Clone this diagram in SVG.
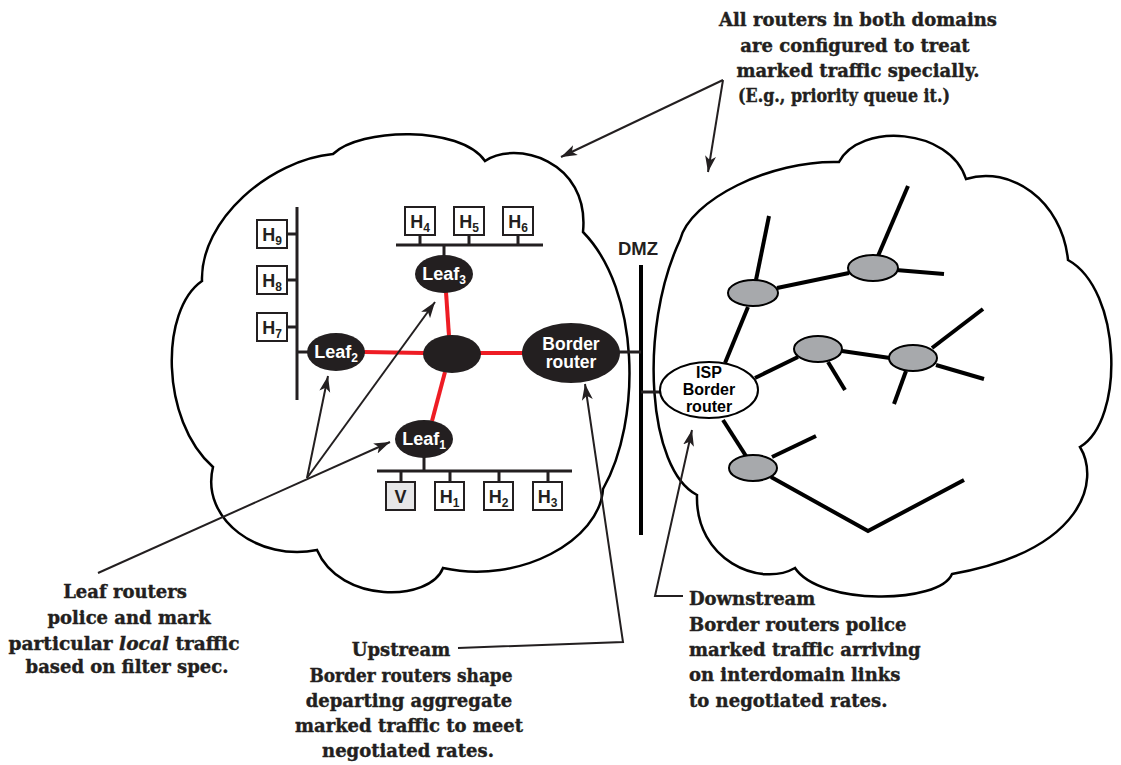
<svg xmlns="http://www.w3.org/2000/svg" width="1121" height="765" viewBox="0 0 1121 765">
<style>
.cloud{fill:none;stroke:#000;stroke-width:2.5}
.host{fill:#fff;stroke:#231f20;stroke-width:2}
.hl{font-family:"Liberation Sans",Arial,sans-serif;font-weight:bold;font-size:18px;fill:#231f20}
.sub{font-size:12px}
.rt{fill:#231f20}
.rl{font-family:"Liberation Sans",Arial,sans-serif;font-weight:bold;font-size:18px;fill:#fff}
.bus{stroke:#231f20;stroke-width:3;fill:none}
.red{stroke:#ee1c24;stroke-width:4;fill:none}
.net{stroke:#000;stroke-width:4;fill:none}
.gr{fill:#a7a9ac;stroke:#000;stroke-width:2}
.arr{stroke:#231f20;stroke-width:2;fill:none}
.note{font-family:"DejaVu Serif","Liberation Serif",serif;font-weight:bold;font-size:18px;fill:#231f20;stroke:#231f20;stroke-width:0.4}
</style>
<defs>
<marker id="ah" markerUnits="userSpaceOnUse" markerWidth="17" markerHeight="12" refX="16" refY="6" orient="auto">
<path d="M0,0.5 L16,6 L0,11.5 L4,6 z" fill="#231f20"/>
</marker>
</defs>
<rect width="1121" height="765" fill="#fff"/>

<g id="clouds">
<path id="cloud-left" class="cloud" d="M333,154 C360,128 460,125 485,161 C515,140 590,160 583,232 C640,290 642,420 603,489 C600,540 520,585 443,568 C430,602 340,604 317,550 C260,562 200,520 213,467 C160,420 160,310 202,281 C200,220 270,160 333,154 Z"/>
<path id="cloud-right" class="cloud" d="M839,162 C860,122 950,128 966,179 C1010,165 1062,200 1068,260 C1122,290 1125,420 1080,447 C1100,480 1085,550 952,574 C940,604 820,606 795,568 C760,588 695,560 697,495 C648,470 638,330 680,240 C690,200 770,160 839,162 Z"/>
</g>

<g id="connectors">
<line class="bus" x1="297" y1="207" x2="297" y2="400"/>
<line class="bus" x1="287" y1="234" x2="297" y2="234"/>
<line class="bus" x1="287" y1="280" x2="297" y2="280"/>
<line class="bus" x1="287" y1="327" x2="297" y2="327"/>
<line class="bus" x1="297" y1="352" x2="308" y2="352"/>
<line class="bus" x1="396" y1="245" x2="543" y2="245"/>
<line class="bus" x1="420" y1="235" x2="420" y2="245"/>
<line class="bus" x1="469" y1="235" x2="469" y2="245"/>
<line class="bus" x1="518" y1="235" x2="518" y2="245"/>
<line class="bus" x1="444" y1="245" x2="444" y2="256"/>
<line class="bus" x1="377" y1="471" x2="572" y2="471"/>
<line class="bus" x1="424" y1="457" x2="424" y2="471"/>
<line class="bus" x1="401" y1="471" x2="401" y2="482"/>
<line class="bus" x1="450" y1="471" x2="450" y2="482"/>
<line class="bus" x1="499" y1="471" x2="499" y2="482"/>
<line class="bus" x1="548" y1="471" x2="548" y2="482"/>
<line class="red" x1="364" y1="352" x2="424" y2="353"/>
<line class="red" x1="480" y1="353" x2="523" y2="353"/>
<line class="red" x1="446" y1="292" x2="449" y2="336"/>
<line class="red" x1="432" y1="421" x2="445" y2="372"/>
<line x1="641" y1="265" x2="641" y2="535" stroke="#000" stroke-width="4"/>
<line class="bus" x1="619" y1="352" x2="641" y2="352"/>
<line class="bus" x1="641" y1="392" x2="661" y2="392"/>
<line class="net" x1="725" y1="363" x2="748" y2="307"/>
<line class="net" x1="756" y1="280" x2="769" y2="216"/>
<line class="net" x1="777" y1="288" x2="849" y2="273"/>
<line class="net" x1="878" y1="256" x2="908" y2="186"/>
<line class="net" x1="896" y1="270" x2="944" y2="274"/>
<line class="net" x1="755" y1="378" x2="798" y2="357"/>
<line class="net" x1="828" y1="362" x2="845" y2="390"/>
<line class="net" x1="842" y1="351" x2="890" y2="358"/>
<line class="net" x1="932" y1="348" x2="983" y2="309"/>
<line class="net" x1="936" y1="365" x2="984" y2="379"/>
<line class="net" x1="906" y1="371" x2="894" y2="404"/>
<line class="net" x1="723" y1="420" x2="746" y2="456"/>
<line class="net" x1="772" y1="457" x2="816" y2="436"/>
<polyline class="net" points="771,477 868,531 964,480"/>
<line class="arr" x1="723" y1="80" x2="561" y2="157" marker-end="url(#ah)"/>
<line class="arr" x1="723" y1="80" x2="708" y2="172" marker-end="url(#ah)"/>
<line class="arr" x1="98" y1="573" x2="390" y2="442" marker-end="url(#ah)"/>
<line class="arr" x1="307" y1="478" x2="328" y2="376" marker-end="url(#ah)"/>
<line class="arr" x1="307" y1="478" x2="435" y2="302" marker-end="url(#ah)"/>
<polyline class="arr" points="458,648 623,642 585,384" marker-end="url(#ah)"/>
<polyline class="arr" points="683,596 655,596 692,430" marker-end="url(#ah)"/>
</g>

<g id="host-H9"><rect class="host" x="257" y="220" width="30" height="28"/><text class="hl" x="272" y="240.5" text-anchor="middle">H<tspan class="sub" dy="4">9</tspan></text></g>
<g id="host-H8"><rect class="host" x="257" y="266" width="30" height="28"/><text class="hl" x="272" y="286.5" text-anchor="middle">H<tspan class="sub" dy="4">8</tspan></text></g>
<g id="host-H7"><rect class="host" x="257" y="313" width="30" height="28"/><text class="hl" x="272" y="333.5" text-anchor="middle">H<tspan class="sub" dy="4">7</tspan></text></g>
<g id="host-H4"><rect class="host" x="405" y="207" width="30" height="28"/><text class="hl" x="420" y="227.5" text-anchor="middle">H<tspan class="sub" dy="4">4</tspan></text></g>
<g id="host-H5"><rect class="host" x="454" y="207" width="30" height="28"/><text class="hl" x="469" y="227.5" text-anchor="middle">H<tspan class="sub" dy="4">5</tspan></text></g>
<g id="host-H6"><rect class="host" x="503" y="207" width="30" height="28"/><text class="hl" x="518" y="227.5" text-anchor="middle">H<tspan class="sub" dy="4">6</tspan></text></g>
<g id="host-V"><rect class="host" x="386" y="482" width="29" height="28" style="fill:#e6e6e7"/><text class="hl" x="400.5" y="502.5" text-anchor="middle">V</text></g>
<g id="host-H1"><rect class="host" x="435" y="482" width="29" height="28"/><text class="hl" x="449.5" y="502.5" text-anchor="middle">H<tspan class="sub" dy="4">1</tspan></text></g>
<g id="host-H2"><rect class="host" x="484" y="482" width="29" height="28"/><text class="hl" x="498.5" y="502.5" text-anchor="middle">H<tspan class="sub" dy="4">2</tspan></text></g>
<g id="host-H3"><rect class="host" x="533" y="482" width="29" height="28"/><text class="hl" x="547.5" y="502.5" text-anchor="middle">H<tspan class="sub" dy="4">3</tspan></text></g>

<g id="leaf2"><ellipse class="rt" cx="336" cy="352" rx="29" ry="19"/><text class="rl" x="336" y="358" text-anchor="middle">Leaf<tspan class="sub" dy="4">2</tspan></text></g>
<g id="leaf3"><ellipse class="rt" cx="444" cy="274" rx="29" ry="19"/><text class="rl" x="444" y="280" text-anchor="middle">Leaf<tspan class="sub" dy="4">3</tspan></text></g>
<g id="leaf1"><ellipse class="rt" cx="424" cy="439" rx="29" ry="19"/><text class="rl" x="424" y="445" text-anchor="middle">Leaf<tspan class="sub" dy="4">1</tspan></text></g>
<g id="core-router"><ellipse class="rt" cx="452" cy="354" rx="29" ry="19"/></g>
<g id="border-router"><ellipse class="rt" cx="571" cy="353" rx="49" ry="30"/><text class="rl" x="571" y="350" text-anchor="middle" style="font-size:17.5px">Border</text><text class="rl" x="571" y="368" text-anchor="middle" style="font-size:17.5px">router</text></g>
<g id="dmz"><text class="hl" x="638" y="255" text-anchor="middle" style="font-size:18.5px">DMZ</text></g>
<g id="isp-border-router"><ellipse cx="709" cy="390" rx="49" ry="28" fill="#fff" stroke="#000" stroke-width="2"/><text class="hl" x="709" y="378" text-anchor="middle" style="font-size:16px;fill:#000">ISP</text><text class="hl" x="709" y="395" text-anchor="middle" style="font-size:16px;fill:#000">Border</text><text class="hl" x="709" y="412" text-anchor="middle" style="font-size:16px;fill:#000">router</text></g>
<g id="isp-r1"><ellipse class="gr" cx="753" cy="293" rx="25" ry="13"/></g>
<g id="isp-r2"><ellipse class="gr" cx="873" cy="268" rx="25" ry="13"/></g>
<g id="isp-r3"><ellipse class="gr" cx="818" cy="349" rx="24" ry="13"/></g>
<g id="isp-r4"><ellipse class="gr" cx="913" cy="358" rx="24" ry="13"/></g>
<g id="isp-r5"><ellipse class="gr" cx="753" cy="468" rx="24" ry="13"/></g>

<g id="note-top" class="note" text-anchor="middle">
<text x="858" y="26">All routers in both domains</text>
<text x="855" y="52">are configured to treat</text>
<text x="858" y="77">marked traffic specially.</text>
<text x="844" y="102" textLength="212" lengthAdjust="spacingAndGlyphs">(E.g., priority queue it.)</text>
</g>
<g id="note-leaf" class="note" text-anchor="middle">
<text x="125" y="598">Leaf routers</text>
<text x="129" y="624">police and mark</text>
<text x="124" y="650" textLength="231" lengthAdjust="spacingAndGlyphs">particular <tspan font-style="italic">local</tspan> traffic</text>
<text x="127" y="673">based on filter spec.</text>
</g>
<g id="note-upstream" class="note" text-anchor="middle">
<text x="401" y="656">Upstream</text>
<text x="411" y="682" textLength="203" lengthAdjust="spacingAndGlyphs">Border routers shape</text>
<text x="409" y="707">departing aggregate</text>
<text x="409" y="732">marked traffic to meet</text>
<text x="408" y="757">negotiated rates.</text>
</g>
<g id="note-downstream" class="note">
<text x="689" y="605">Downstream</text>
<text x="689" y="631">Border routers police</text>
<text x="689" y="656">marked traffic arriving</text>
<text x="689" y="681">on interdomain links</text>
<text x="689" y="707">to negotiated rates.</text>
</g>
</svg>
